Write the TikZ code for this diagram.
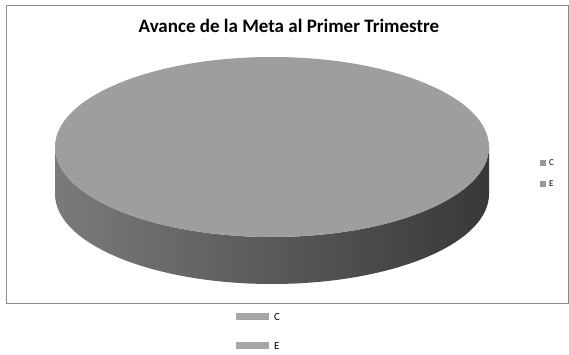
\documentclass[tikz,border=0pt]{standalone}
\usepackage{fontspec}
\setmainfont{Carlito}
\begin{document}
\begin{tikzpicture}[x=1pt,y=1pt,
  framebox/.style={draw=black!45,line width=0.5pt},
  topface/.style={fill=black!38},
  sidewall/.style={left color=black!52,middle color=black!70,right color=black!78},
  smallkey/.style={fill=black!40,minimum width=5.5pt,minimum height=5.5pt,inner sep=0pt},
  widekey/.style={fill=black!35,minimum width=33pt,minimum height=7pt,inner sep=0pt},
  smalllabel/.style={font=\fontsize{9}{10}\selectfont,anchor=west,inner sep=0pt},
  biglabel/.style={font=\fontsize{11}{12}\selectfont,anchor=west,inner sep=0pt}]
\useasboundingbox (0,0) rectangle (569,355);
\fill[white] (0,0) rectangle (569,355);
% chart frame
\draw[framebox] (6,52) rectangle (568,350);
% title
\node[font=\bfseries\fontsize{19}{22}\selectfont] (title) at (289,329) {Avance de la Meta al Primer Trimestre};
% pie side wall
\path[sidewall] (55,208) -- (55,161) arc[start angle=180,end angle=360,x radius=217pt,y radius=90pt]
  -- (489,208) arc[start angle=0,end angle=-180,x radius=217pt,y radius=90pt] -- cycle;
% pie top face
\fill[topface] (272,208) ellipse[x radius=217pt,y radius=90pt];
% right legend
\node[smallkey] (kc) at (543,192) {};
\node[smalllabel] (lc) at (549,192) {C};
\node[smallkey] (ke) at (543,171) {};
\node[smalllabel] (le) at (549,171) {E};
% bottom legend
\node[widekey] (kc2) at (252.5,38.5) {};
\node[biglabel] (lc2) at (274,38.5) {C};
\node[widekey] (ke2) at (252.5,9) {};
\node[biglabel] (le2) at (274,9) {E};
\end{tikzpicture}
\end{document}
